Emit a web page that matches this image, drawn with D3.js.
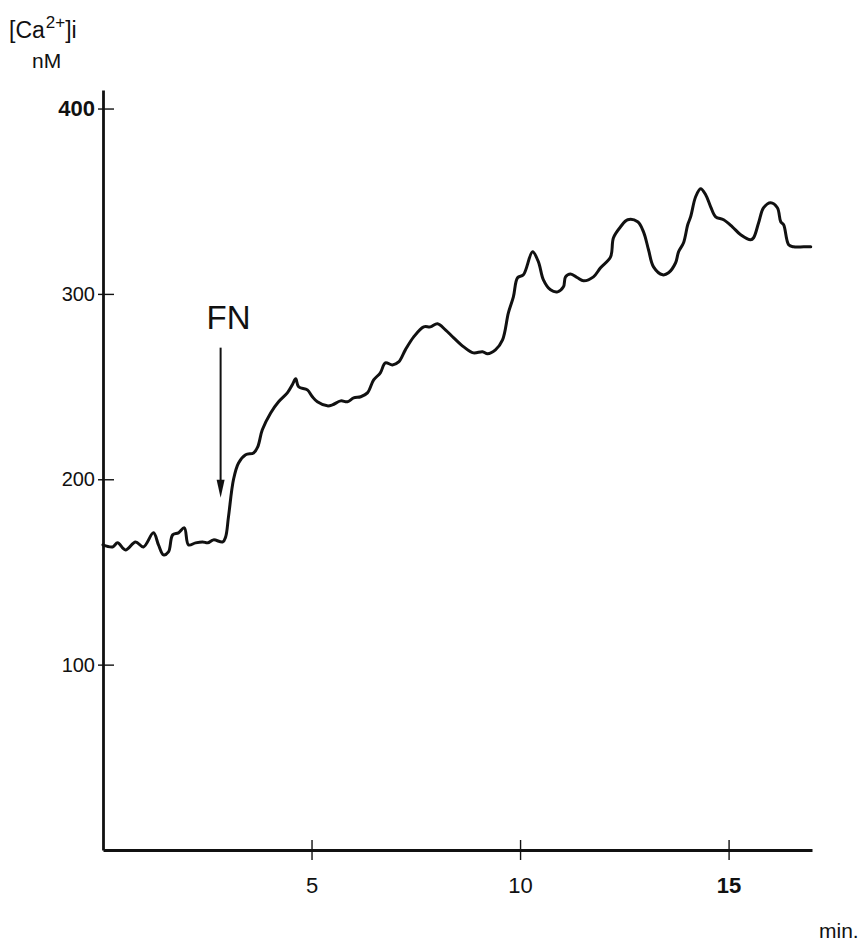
<!DOCTYPE html>
<html>
<head>
<meta charset="utf-8">
<script src="https://cdn.jsdelivr.net/npm/d3@7"></script>
<style>
  html, body { margin: 0; padding: 0; background: #ffffff; }
  svg { display: block; }
  text { font-family: "Liberation Sans", Arial, Helvetica, sans-serif; fill: #111; }
</style>
</head>
<body>
<script>
// ---- data (time in min, [Ca2+]i in nM) ----
const timeMin = [0.0,0.23,0.35,0.54,0.78,0.97,1.21,1.33,1.45,1.57,1.67,1.81,1.95,2.05,2.22,2.39,2.51,2.65,2.87,2.94,3.01,3.13,3.25,3.42,3.61,3.71,3.82,4.02,4.21,4.42,4.54,4.62,4.69,4.90,5.02,5.14,5.38,5.50,5.70,5.86,6.01,6.18,6.34,6.49,6.65,6.77,6.94,7.09,7.25,7.45,7.69,7.85,8.02,8.21,8.41,8.65,8.88,9.10,9.22,9.41,9.58,9.72,9.84,9.94,10.08,10.30,10.44,10.56,10.73,10.90,11.04,11.09,11.21,11.38,11.52,11.76,11.93,12.17,12.24,12.41,12.58,12.82,12.96,13.08,13.20,13.42,13.56,13.73,13.80,13.92,14.02,14.09,14.21,14.33,14.45,14.57,14.69,14.88,15.09,15.29,15.53,15.60,15.72,15.84,16.01,16.17,16.25,16.32,16.44,16.56,16.80,16.97];
const caValues = [164.6,163.5,165.7,161.9,166.2,163.5,171.1,164.6,159.2,160.8,170.0,171.1,173.8,164.6,165.7,166.2,165.7,167.3,166.2,168.9,180.0,200.0,208.8,213.2,214.2,217.5,226.7,235.8,241.8,246.6,251.0,254.2,249.9,248.2,244.5,241.8,239.6,240.1,242.3,241.8,243.9,244.5,246.6,253.6,257.4,262.8,261.7,263.3,269.8,276.8,282.2,282.2,283.9,280.6,276.3,271.4,268.2,268.8,267.7,269.8,275.2,289.8,298.4,308.7,310.3,322.7,317.3,307.6,302.2,301.1,303.8,309.2,310.8,308.7,307.1,309.2,314.1,320.0,330.3,336.2,340.0,338.9,333.5,323.8,314.6,310.3,311.4,316.8,322.7,327.6,337.3,341.6,352.4,356.7,353.5,347.0,341.6,340.0,336.2,331.9,329.2,330.3,338.4,346.5,349.2,346.5,338.9,337.3,326.5,325.4,325.4,325.4];
const yTicks = [100, 200, 300, 400];
const yTickLabels = ["100", "200", "300", "400"];
const xTicks = [5, 10, 15];
const xTickLabels = ["5", "10", "15"];
const arrowTime = 2.82;
const arrowFrom = 271;
const arrowTo = 190;
const annotationText = "FN";

const W = 865, H = 943;
const svg = d3.select("body").append("svg").attr("width", W).attr("height", H);

const x = d3.scaleLinear().domain([0, 17]).range([103, 812]);
const y = d3.scaleLinear().domain([0, 410]).range([850, 90]);

const ink = "#111";

// Y axis
const yAxis = d3.axisLeft(y).tickValues(yTicks)
  .tickFormat((d, i) => yTickLabels[i]).tickSizeOuter(0).tickSizeInner(5).tickPadding(3);
const gy = svg.append("g").attr("transform", `translate(${x(0)},0)`).call(yAxis);
gy.select(".domain").attr("stroke", ink).attr("stroke-width", 2.8);
gy.selectAll(".tick line").attr("stroke", ink).attr("stroke-width", 1.4).attr("x1", 11).attr("x2", -5);
gy.selectAll(".tick text")
  .style("font-size", d => d === 400 ? "22px" : "20px")
  .style("font-weight", d => d === 400 ? "bold" : "normal")
  .attr("x", -8).attr("fill", ink);

// X axis
const xAxis = d3.axisBottom(x).tickValues(xTicks)
  .tickFormat((d, i) => xTickLabels[i]).tickSizeOuter(0).tickSizeInner(10);
const gx = svg.append("g").attr("transform", `translate(0,${y(0)})`).call(xAxis);
gx.select(".domain").attr("stroke", ink).attr("stroke-width", 2.8);
gx.selectAll(".tick line").attr("stroke", ink).attr("stroke-width", 1.4).attr("y1", -10).attr("y2", 10);
gx.selectAll(".tick text")
  .style("font-size", "22px")
  .style("font-weight", d => d === 15 ? "bold" : "normal")
  .attr("y", 43).attr("dy", 0).attr("fill", ink);

// Axis titles
const yTitle = svg.append("text").attr("x", 9).attr("y", 38).style("font-size", "23px");
yTitle.append("tspan").text("[Ca");
yTitle.append("tspan").attr("dx", 1).attr("dy", -10).style("font-size", "17px").text("2+");
yTitle.append("tspan").attr("dy", 10).text("]i");
svg.append("text").attr("x", 32).attr("y", 68).style("font-size", "21px").text("nM");
svg.append("text").attr("x", 819).attr("y", 938).style("font-size", "21px").text("min.");

// Trace
const data = timeMin.map((t, i) => ({ t, v: caValues[i] }));
const line = d3.line().x(d => x(d.t)).y(d => y(d.v)).curve(d3.curveCatmullRom.alpha(0.5));
svg.append("path").datum(data).attr("d", line)
  .attr("fill", "none").attr("stroke", ink).attr("stroke-width", 3)
  .attr("stroke-linejoin", "round").attr("stroke-linecap", "round");

// FN arrow annotation
const ax = x(arrowTime);
svg.append("line").attr("x1", ax).attr("x2", ax)
  .attr("y1", y(arrowFrom)).attr("y2", y(arrowTo) - 14)
  .attr("stroke", ink).attr("stroke-width", 2);
svg.append("path")
  .attr("d", `M${ax - 4},${y(arrowTo) - 18} L${ax + 4},${y(arrowTo) - 18} L${ax},${y(arrowTo)} Z`)
  .attr("fill", ink);
svg.append("text").attr("x", ax + 8).attr("y", y(arrowFrom) - 19)
  .attr("text-anchor", "middle").style("font-size", "33px").text(annotationText);
</script>
</body>
</html>
